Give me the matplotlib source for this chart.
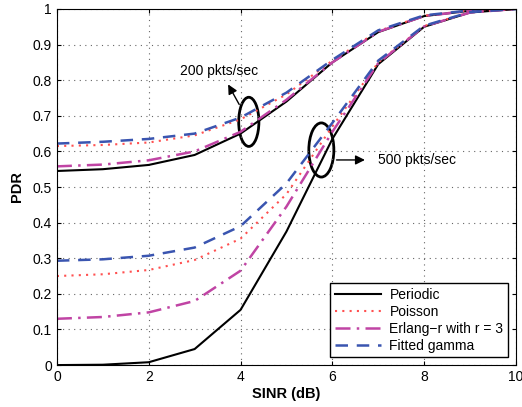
import matplotlib
matplotlib.use("Agg")
import matplotlib.pyplot as plt
from matplotlib.patches import Ellipse

plt.rcParams['font.family'] = ['Liberation Sans', 'DejaVu Sans']

sinr = [0, 1, 2, 3, 4, 5, 6, 7, 8, 9, 10]

# 200 pkts/sec
periodic_200 = [0.545, 0.550, 0.562, 0.590, 0.650, 0.740, 0.850, 0.935, 0.980, 0.995, 1.0]
poisson_200 = [0.615, 0.618, 0.625, 0.645, 0.690, 0.760, 0.855, 0.938, 0.981, 0.996, 1.0]
erlang_200 = [0.558, 0.563, 0.575, 0.600, 0.655, 0.745, 0.850, 0.936, 0.980, 0.995, 1.0]
gamma_200 = [0.622, 0.627, 0.635, 0.650, 0.695, 0.765, 0.857, 0.940, 0.982, 0.996, 1.0]

# 500 pkts/sec
periodic_500 = [0.0, 0.001, 0.008, 0.045, 0.155, 0.375, 0.635, 0.845, 0.950, 0.990, 1.0]
poisson_500 = [0.250, 0.255, 0.267, 0.295, 0.355, 0.480, 0.670, 0.850, 0.952, 0.991, 1.0]
erlang_500 = [0.130, 0.135, 0.148, 0.180, 0.265, 0.445, 0.655, 0.848, 0.951, 0.990, 1.0]
gamma_500 = [0.293, 0.297, 0.307, 0.330, 0.390, 0.510, 0.680, 0.855, 0.953, 0.991, 1.0]

xticks = [0, 2, 4, 6, 8, 10]
yticks = [0, 0.1, 0.2, 0.3, 0.4, 0.5, 0.6, 0.7, 0.8, 0.9, 1]

fig = plt.figure(figsize=(5.22, 4.07), dpi=100)
ax = fig.add_axes([0.109, 0.103, 0.8795, 0.875])

c_per = 'black'
c_poi = '#ff5050'
c_erl = '#c044a4'
c_gam = '#3a55b0'

ax.plot(sinr, periodic_200, color=c_per, lw=1.5, ls='-', label='Periodic')
ax.plot(sinr, poisson_200, color=c_poi, lw=1.5, ls=(0, (1, 2.5)), label='Poisson')
ax.plot(sinr, erlang_200, color=c_erl, lw=1.8, ls=(0, (6, 2.5, 1, 2.5)), label='Erlang\u2212r with r = 3')
ax.plot(sinr, gamma_200, color=c_gam, lw=1.8, ls=(0, (5, 3.5)), label='Fitted gamma')

ax.plot(sinr, periodic_500, color=c_per, lw=1.5, ls='-')
ax.plot(sinr, poisson_500, color=c_poi, lw=1.5, ls=(0, (1, 2.5)))
ax.plot(sinr, erlang_500, color=c_erl, lw=1.8, ls=(0, (6, 2.5, 1, 2.5)))
ax.plot(sinr, gamma_500, color=c_gam, lw=1.8, ls=(0, (5, 3.5)))

ax.set_xlim(0, 10)
ax.set_ylim(0, 1)
ax.set_xticks(xticks)
ax.set_yticks(yticks)
ax.set_xticklabels([str(t) for t in xticks])
ax.set_yticklabels(['0', '0.1', '0.2', '0.3', '0.4', '0.5', '0.6', '0.7', '0.8', '0.9', '1'])
ax.tick_params(labelsize=10, direction='in', length=3, top=True, right=True)
ax.grid(True, ls=(0, (1, 4)), color='#666666', lw=0.8)
ax.set_xlabel('SINR (dB)', fontsize=10.5, fontweight='bold', labelpad=2)
ax.set_ylabel('PDR', fontsize=10.5, fontweight='bold', labelpad=6)

# annotations
ax.add_patch(Ellipse((4.18, 0.683), 0.44, 0.138, fill=False, lw=2, color='black'))
ax.add_patch(Ellipse((5.76, 0.604), 0.545, 0.152, fill=False, lw=2, color='black'))
ax.annotate('', xy=(3.7, 0.795), xytext=(4.0, 0.725),
            arrowprops=dict(arrowstyle='-|>', color='black', lw=1, mutation_scale=14))
ax.text(3.53, 0.826, '200 pkts/sec', fontsize=10, ha='center', va='center')
ax.annotate('', xy=(6.77, 0.576), xytext=(6.03, 0.576),
            arrowprops=dict(arrowstyle='-|>', color='black', lw=1, mutation_scale=14))
ax.text(6.99, 0.576, '500 pkts/sec', fontsize=10, ha='left', va='center')

leg = ax.legend(loc='lower right', fontsize=10, fancybox=False, framealpha=1,
                edgecolor='black', borderaxespad=0.55, handlelength=3.3,
                labelspacing=0.2, borderpad=0.35, handletextpad=0.6)
leg.get_frame().set_linewidth(1)

fig.savefig('out.png', dpi=100)
